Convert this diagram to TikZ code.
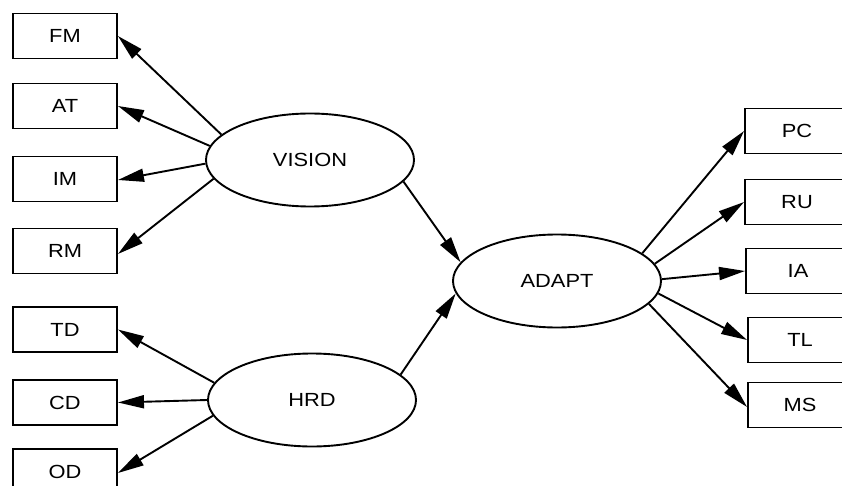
\documentclass[tikz,border=0pt]{standalone}
\usepackage{fontspec}
\setmainfont{Liberation Sans}[FakeStretch=1.15]
\usetikzlibrary{arrows.meta,shapes.geometric}
\begin{document}
\begin{tikzpicture}[x=1pt,y=-1pt,
  every node/.style={font=\fontsize{19}{22}\selectfont},
  obs/.style={draw,line width=1.9pt,rectangle,minimum width=104pt,minimum height=45pt,inner sep=0pt},
  lat/.style={draw,line width=1.9pt,ellipse,minimum width=208pt,minimum height=93pt,inner sep=0pt},
  path/.style={line width=1.9pt,-{Triangle[length=26pt,width=13pt]}}]
\useasboundingbox (0,0) rectangle (842,486);
\clip (0,0) rectangle (842,486);
% latent variables
\node[lat] (vision) at (310,160) {VISION};
\node[lat] (hrd)    at (312,400) {HRD};
\node[lat] (adapt)  at (557,281) {ADAPT};
% indicators on the left
\node[obs] (fm) at (65,36)    {FM};
\node[obs] (at) at (65,106)   {AT};
\node[obs] (im) at (65,179)   {IM};
\node[obs] (rm) at (65,251)   {RM};
\node[obs] (td) at (65,329.5) {TD};
\node[obs] (cd) at (65,402.5) {CD};
\node[obs] (od) at (65,471.5) {OD};
% indicators on the right
\node[obs] (pc) at (797,131) {PC};
\node[obs] (ru) at (797,202) {RU};
\node[obs] (ia) at (798,271) {IA};
\node[obs] (tl) at (800,340) {TL};
\node[obs] (ms) at (800,405) {MS};
% loadings of VISION
\draw[path] (vision.164.5) -- (fm.east);
\draw[path] (vision.172.8) -- (at.east);
\draw[path] (vision.182)   -- ([yshift=-1pt]im.east);
\draw[path] (vision.191.6) -- ([yshift=-3pt]rm.east);
% loadings of HRD
\draw[path] (hrd.170.4) -- (td.east);
\draw[path] (hrd.180.5) -- (cd.east);
\draw[path] (hrd.189.6) -- ([yshift=-1.5pt]od.east);
% structural paths
\draw[path] (vision.-13.9) -- (adapt.169.5);
\draw[path] (hrd.16.7) -- (adapt.187);
% loadings of ADAPT
\draw[path] (adapt.18.2) -- (pc.west);
\draw[path] (adapt.10.8) -- (ru.west);
\draw[path] (adapt.1.6)  -- (ia.west);
\draw[path] (adapt.-7.9) -- (tl.west);
\draw[path] (adapt.-14.8) -- ([yshift=-2pt]ms.west);
\end{tikzpicture}
\end{document}
